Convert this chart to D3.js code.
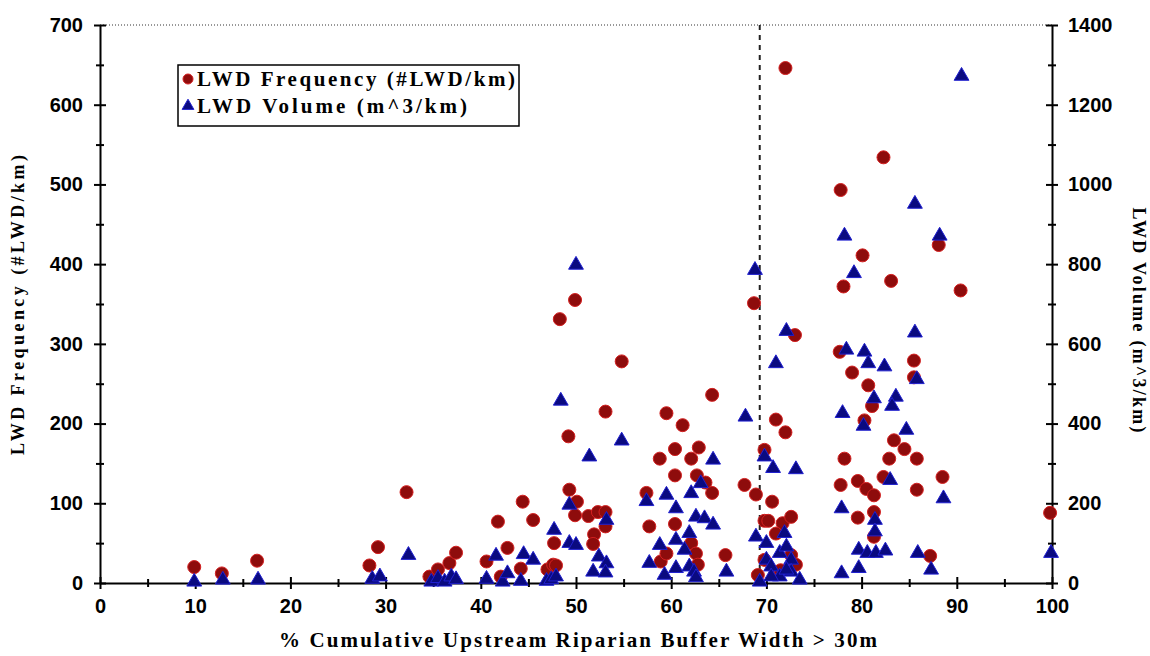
<!DOCTYPE html>
<html>
<head>
<meta charset="utf-8">
<title>LWD vs riparian buffer</title>
<style>
  body { margin: 0; background: #fff; }
  svg { display: block; }
  .tick text { font-family: "Liberation Sans", Arial, sans-serif; font-weight: bold; font-size: 20px; fill: #000; }
  .title { font-family: "Liberation Serif", "Times New Roman", serif; font-weight: bold; fill: #000; }
</style>
<script src="https://d3js.org/d3.v7.min.js"></script>
</head>
<body>
<script>
// LWD frequency (#LWD/km) against % buffer width, left axis
var freqX = [9.9,12.8,16.5,28.3,29.2,32.2,34.6,35.5,36.7,37.4,40.6,41.8,42.1,42.8,44.2,44.4,45.5,47.0,47.6,47.9,47.7,48.3,49.2,49.3,49.9,50.1,49.9,51.3,51.9,51.8,52.3,53.1,53.1,53.1,54.8,57.4,57.7,58.8,59.5,58.9,59.5,60.4,60.4,60.4,61.2,62.1,62.9,62.7,63.6,64.3,64.3,62.1,62.6,62.8,65.7,67.7,68.9,68.7,69.1,69.8,70.6,71.0,72.0,72.0,73.0,69.8,70.2,71.7,72.6,71.0,72.6,73.1,71.0,71.5,69.8,77.8,82.3,80.1,83.1,78.1,88.1,90.4,77.7,85.5,85.5,79.0,80.7,81.1,80.3,83.4,84.5,78.2,82.9,85.8,88.5,82.3,77.8,79.6,80.5,81.3,85.8,79.6,81.3,81.3,87.2,99.8];
var freqY = [20,12,28,22,45,114,8,17,25,38,27,77,8,44,18,102,79,17,23,22,50,331,184,117,355,102,85,84,61,49,89,89,71,215,278,113,71,156,213,27,37,168,135,74,198,156,170,135,126,236,113,50,37,23,35,123,111,351,10,167,102,205,189,646,311,78,78,75,83,62,35,23,14,16,29,493,534,411,379,372,424,367,290,279,258,264,248,222,204,179,168,156,156,156,133,133,123,128,118,110,117,82,89,58,34,88];

// LWD volume (m^3/km), right axis
var volX = [9.9,12.9,16.6,28.6,29.4,32.4,34.8,35.5,36.2,36.9,37.4,40.6,41.6,42.3,42.8,44.2,44.5,45.5,46.9,47.4,47.9,47.7,48.4,50.0,49.3,49.3,50.0,51.4,51.8,52.4,53.2,53.2,53.1,54.8,57.4,57.7,59.5,60.5,58.8,60.5,59.3,60.5,61.4,61.9,62.1,63.1,62.6,63.5,64.4,64.4,61.9,62.4,62.6,65.8,67.8,68.8,68.9,69.3,69.8,70.7,73.1,71.0,72.1,70.0,70.0,70.5,71.4,71.9,72.1,72.6,71.4,72.6,73.5,70.5,72.1,85.6,78.2,88.2,79.2,85.6,78.4,80.3,80.7,82.4,85.8,81.3,83.6,83.2,78.0,80.2,84.7,83.0,88.6,77.9,81.4,81.4,79.7,80.6,81.5,82.5,85.9,99.9,77.9,79.7,87.3,90.5];
var volY = [3,8,8,10,16,70,3,12,3,16,9,10,68,3,24,5,72,58,5,9,16,133,457,798,196,100,95,317,28,66,49,158,26,357,205,50,221,187,95,108,20,37,83,125,225,250,166,162,146,309,41,28,14,28,417,785,116,3,317,288,285,551,632,100,58,41,75,125,91,58,16,28,8,16,33,951,871,871,777,628,585,580,551,543,511,463,467,444,426,394,384,258,212,187,158,129,83,75,75,81,75,75,24,37,33,1272];

var xTicks = d3.range(0, 101, 5);
var leftTicks = d3.range(0, 701, 50);
var rightTicks = d3.range(0, 1401, 100);
var cutoff = 69.3;
var legendLabels = ["LWD Frequency (#LWD/km)", "LWD Volume (m^3/km)"];

var width = 1150, height = 656;
var margin = {top: 25, right: 98, bottom: 73, left: 100};

var svg = d3.select("body").append("svg")
  .attr("width", width)
  .attr("height", height);

var x = d3.scaleLinear().domain([0, 100]).range([margin.left, width - margin.right]);
var yL = d3.scaleLinear().domain([0, 700]).range([height - margin.bottom, margin.top]);
var yR = d3.scaleLinear().domain([0, 1400]).range([height - margin.bottom, margin.top]);

// dotted top border
svg.append("line")
  .attr("x1", x(0)).attr("x2", x(100))
  .attr("y1", yL(700)).attr("y2", yL(700))
  .attr("stroke", "#333").attr("stroke-width", 1)
  .attr("stroke-dasharray", "1,2");

// cutoff line
svg.append("line")
  .attr("x1", x(cutoff)).attr("x2", x(cutoff))
  .attr("y1", yL(700)).attr("y2", yL(0))
  .attr("stroke", "#222").attr("stroke-width", 2)
  .attr("stroke-dasharray", "5,5");

function styleAxis(g, major, sideways) {
  g.select(".domain").attr("stroke", "#000").attr("stroke-width", 2);
  g.selectAll(".tick line")
    .attr("stroke", "#000").attr("stroke-width", 2)
    .each(function(d) {
      var big = major(d) ? 6 : 4;
      if (sideways) d3.select(this).attr("x1", -big).attr("x2", big);
      else d3.select(this).attr("y1", -big).attr("y2", big);
    });
}

var xAxis = svg.append("g")
  .attr("transform", "translate(0," + yL(0) + ")")
  .call(d3.axisBottom(x).tickValues(xTicks).tickSizeOuter(0)
    .tickFormat(function(d) { return d % 10 === 0 ? d : ""; }));
styleAxis(xAxis, function(d) { return d % 10 === 0; }, false);
xAxis.selectAll(".tick text").attr("y", 16);

var lAxis = svg.append("g")
  .attr("transform", "translate(" + x(0) + ",0)")
  .call(d3.axisLeft(yL).tickValues(leftTicks).tickSizeOuter(0)
    .tickFormat(function(d) { return d % 100 === 0 ? d : ""; }));
styleAxis(lAxis, function(d) { return d % 100 === 0; }, true);
lAxis.selectAll(".tick text").attr("x", -17);

var rAxis = svg.append("g")
  .attr("transform", "translate(" + x(100) + ",0)")
  .call(d3.axisRight(yR).tickValues(rightTicks).tickSizeOuter(0)
    .tickFormat(function(d) { return d % 200 === 0 ? d : ""; }));
styleAxis(rAxis, function(d) { return d % 200 === 0; }, true);
rAxis.selectAll(".tick text").attr("x", 16);

// markers
var freq = freqX.map(function(v, i) { return [v, freqY[i]]; });
var vol = volX.map(function(v, i) { return [v, volY[i]]; });

svg.append("g").selectAll("circle")
  .data(freq).enter().append("circle")
  .attr("cx", function(d) { return x(d[0]); })
  .attr("cy", function(d) { return yL(d[1]); })
  .attr("r", 6.5)
  .attr("fill", "#8e0c0c")
  .attr("stroke", "#d42020").attr("stroke-width", 1);

var tri = d3.symbol().type(d3.symbolTriangle).size(95);
svg.append("g").selectAll("path")
  .data(vol).enter().append("path")
  .attr("d", tri)
  .attr("transform", function(d) { return "translate(" + x(d[0]) + "," + yR(d[1]) + ")"; })
  .attr("fill", "#0a0a80")
  .attr("stroke", "#2020d0").attr("stroke-width", 1);

// legend
var legend = svg.append("g");
legend.append("rect")
  .attr("x", 178).attr("y", 65).attr("width", 341).attr("height", 61)
  .attr("fill", "#fff").attr("stroke", "#000").attr("stroke-width", 1.5);
legend.append("circle")
  .attr("cx", 188).attr("cy", 79).attr("r", 5)
  .attr("fill", "#8e0c0c").attr("stroke", "#d42020");
legend.append("path")
  .attr("d", d3.symbol().type(d3.symbolTriangle).size(60))
  .attr("transform", "translate(188,106)")
  .attr("fill", "#0a0a80").attr("stroke", "#2020d0");
legend.selectAll("text.leg")
  .data(legendLabels).enter().append("text")
  .attr("class", "title leg")
  .attr("x", 197)
  .attr("y", function(d, i) { return 86 + i * 27; })
  .attr("font-size", 21)
  .attr("textLength", function(d, i) { return i === 0 ? 318 : 270; })
  .attr("lengthAdjust", "spacing")
  .text(function(d) { return d; });

// axis titles
svg.append("text").attr("class", "title")
  .attr("x", 578).attr("y", 647)
  .attr("text-anchor", "middle").attr("font-size", 21)
  .attr("textLength", 598).attr("lengthAdjust", "spacing")
  .text("% Cumulative Upstream Riparian Buffer Width > 30m");

svg.append("text").attr("class", "title")
  .attr("transform", "translate(24,305) rotate(-90)")
  .attr("text-anchor", "middle").attr("font-size", 18)
  .attr("textLength", 300).attr("lengthAdjust", "spacing")
  .text("LWD Frequency (#LWD/km)");

svg.append("text").attr("class", "title")
  .attr("transform", "translate(1133,320) rotate(90)")
  .attr("text-anchor", "middle").attr("font-size", 18)
  .attr("textLength", 225).attr("lengthAdjust", "spacing")
  .text("LWD Volume (m^3/km)");
</script>
</body>
</html>
